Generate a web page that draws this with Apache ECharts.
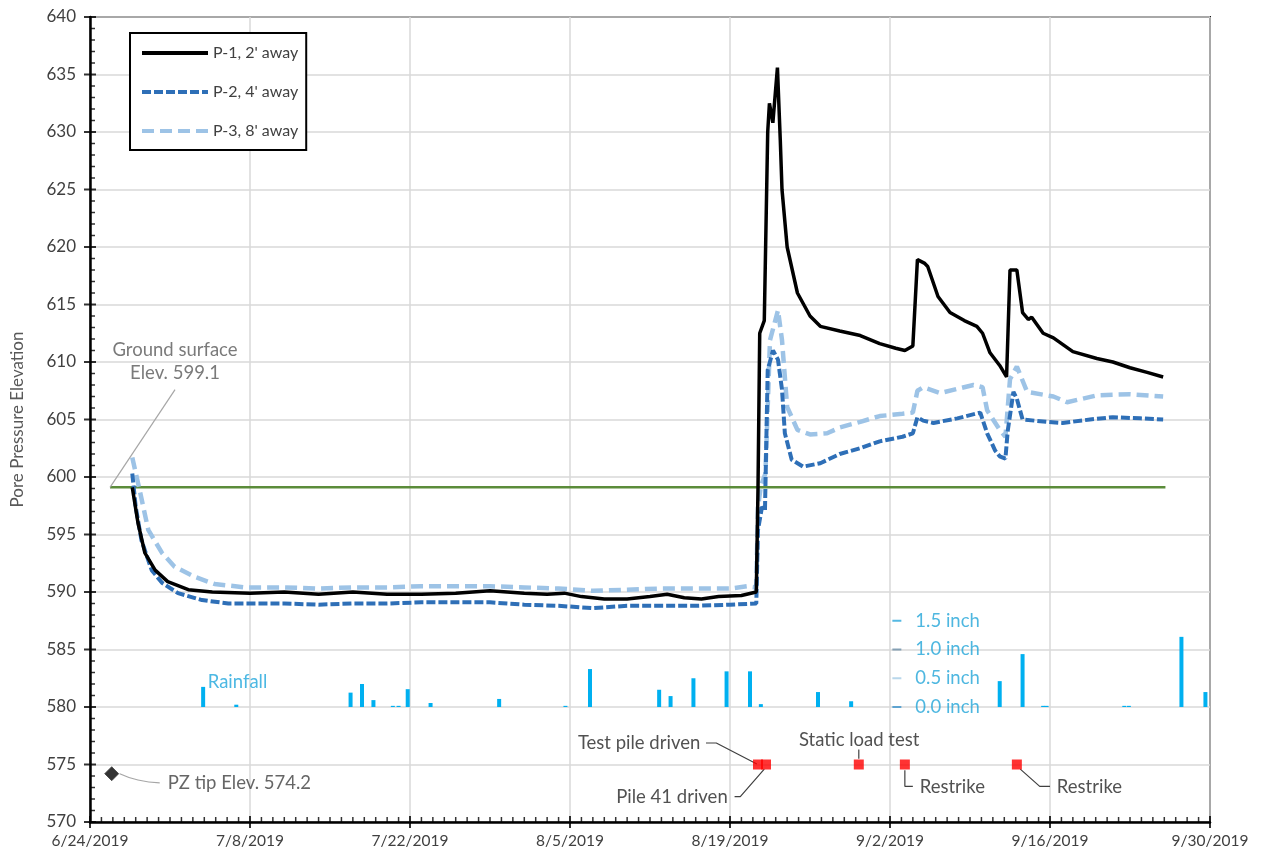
<!DOCTYPE html>
<html>
<head>
<meta charset="utf-8">
<script src="https://cdn.jsdelivr.net/npm/echarts@6/dist/echarts.min.js"></script>
<style>
  html, body { margin: 0; padding: 0; background: #fff; }
  #chart { width: 1261px; height: 860px; }
</style>
</head>
<body>
<div id="chart"></div>
<script>
// Time is measured in days after 6/24/2019.
const xTicksEvery = 14;
const xMaxDay = 98;
const yMin = 570, yMax = 640, yTicksEvery = 5;

// P-1, 2' away
const p1Days = [3.7, 4.2, 4.8, 5.7, 6.8, 8.6, 10.7, 14, 17, 20, 23, 26, 29, 32, 35, 38, 40, 41.5, 43, 45, 47, 49, 50.5, 52, 53.5, 55, 57, 58.3,
  58.45, 58.6, 59.0, 59.3, 59.45, 59.75, 60.15, 60.4, 60.55, 61.0, 61.9, 63.0, 63.9, 65.6, 67.4, 69.1, 70.5, 71.3, 72.0,
  72.4, 73.0, 73.3, 74.2, 75.25, 76.5, 77.6, 78.1, 78.75, 79.6, 80.2, 80.5, 81.1, 81.6, 82.1, 82.4, 83.4, 84.3, 86.0, 88.1, 89.5, 91.0, 92.5, 93.9];
const p1Elev = [599.1, 596.0, 593.4, 591.9, 590.9, 590.2, 590.0, 589.9, 590.0, 589.8, 590.0, 589.8, 589.8, 589.9, 590.1, 589.9, 589.8, 589.9, 589.6, 589.4, 589.4, 589.6, 589.8, 589.5, 589.4, 589.6, 589.7, 590.0,
  599.0, 612.5, 613.6, 630.0, 632.5, 630.8, 635.6, 629.3, 625.0, 620.0, 616.0, 614.0, 613.1, 612.7, 612.3, 611.6, 611.2, 611.0, 611.4,
  618.9, 618.6, 618.3, 615.7, 614.3, 613.6, 613.1, 612.5, 610.8, 609.7, 608.7, 618.0, 618.0, 614.3, 613.7, 613.9, 612.5, 612.1, 610.9, 610.3, 610.0, 609.5, 609.1, 608.7];

// P-2, 4' away
const p2Days = [3.7, 4.0, 4.5, 5.4, 6.3, 7.7, 9.8, 12.1, 14, 17, 20, 23, 26, 29, 32, 35, 38, 41, 44, 47, 50, 53, 56, 58.3,
  58.45, 58.8, 59.06, 59.3, 59.76, 60.2, 60.55, 60.8, 61.4, 62.4, 63.9, 65.6, 67.4, 69.1, 71.1, 72.0,
  72.4, 72.9, 73.8, 75.9, 77.9, 78.5, 79.2, 79.6, 80.1, 80.3, 80.8, 81.1, 81.6, 83.7, 85.1, 87.5, 89.5, 91.9, 93.9];
const p2Elev = [600.3, 597.4, 594.5, 591.9, 590.8, 589.9, 589.3, 589.0, 589.0, 589.0, 588.9, 589.0, 589.0, 589.1, 589.1, 589.1, 588.9, 588.8, 588.6, 588.8, 588.8, 588.8, 588.9, 589.0,
  595.4, 597.4, 597.1, 609.3, 611.0, 610.2, 607.6, 603.8, 601.5, 600.9, 601.2, 602.0, 602.5, 603.1, 603.5, 603.8,
  605.2, 604.9, 604.7, 605.1, 605.6, 603.8, 602.3, 601.8, 601.6, 604.0, 607.4, 606.8, 605.0, 604.8, 604.7, 605.0, 605.2, 605.1, 605.0];

// P-3, 8' away
const p3Days = [3.7, 4.4, 5.1, 6.3, 7.4, 9.2, 10.9, 13.6, 17, 20, 23, 26, 29, 32, 35, 38, 41, 44, 47, 50, 53, 56, 57.5, 58.3,
  58.45, 58.7, 59.1, 59.5, 60.2, 60.55, 61.0, 61.9, 63.0, 64.5, 65.6, 67.4, 69.1, 71.1, 72.0,
  72.4, 72.9, 74.4, 77.3, 78.1, 78.5, 79.6, 80.1, 80.5, 81.1, 82.0, 84.3, 85.5, 88.1, 91.0, 93.9];
const p3Elev = [601.7, 598.6, 595.4, 593.4, 592.2, 591.3, 590.7, 590.4, 590.4, 590.3, 590.4, 590.4, 590.5, 590.5, 590.5, 590.4, 590.3, 590.1, 590.2, 590.3, 590.3, 590.3, 590.5, 590.4,
  597.4, 599.2, 600.3, 611.9, 614.5, 611.9, 606.1, 604.1, 603.7, 603.8, 604.3, 604.8, 605.3, 605.5, 605.6,
  607.5, 607.8, 607.3, 608.0, 607.8, 605.8, 604.1, 603.5, 608.5, 609.6, 607.4, 607.0, 606.5, 607.1, 607.2, 607.0];

// Ground surface elevation and the days it spans
const groundElev = 599.1;
const groundSpan = [1.75, 94.1];

// PZ tip
const pzTipDay = 1.9;
const pzTipElev = 574.2;

// Daily rainfall (inch)
const rainDays = [9.9, 12.8, 22.8, 23.8, 24.8, 26.5, 27.0, 27.8, 29.8, 35.8, 41.6, 43.75, 49.8, 50.8, 52.8, 55.7, 57.75, 58.7, 63.7, 66.6, 79.6, 81.6, 83.4, 83.7, 90.5, 90.9, 95.5, 97.6];
const rainInch = [0.35, 0.04, 0.25, 0.40, 0.12, 0.02, 0.02, 0.31, 0.07, 0.14, 0.02, 0.66, 0.30, 0.19, 0.50, 0.62, 0.62, 0.05, 0.26, 0.10, 0.45, 0.92, 0.02, 0.02, 0.02, 0.02, 1.22, 0.26];
const rainScaleTicks = [0.0, 0.5, 1.0, 1.5];

// Pile events
const eventDays = [58.45, 59.15, 67.27, 71.3, 81.1];
const eventElev = 575;

const fmtDay = d => {
  const dt = new Date(2019, 5, 24 + Math.round(d));
  return (dt.getMonth() + 1) + '/' + dt.getDate() + '/' + dt.getFullYear();
};
const zip = (xs, ys) => xs.map((x, i) => [x, ys[i]]);

// Annotation text and leader lines, in data units (day, elevation)
const notes = [
  { text: 'Ground surface', at: [7.44, 611.0], align: 'center', color: '#595959' },
  { text: 'Elev. 599.1', at: [7.44, 609.0], align: 'center', color: '#595959' },
  { text: 'PZ tip Elev. 574.2', at: [6.8, 573.4], align: 'left', color: '#404040' },
  { text: 'Rainfall', at: [10.3, 582.2], align: 'left', color: '#1fa6dc' },
  { text: 'Test pile driven', at: [53.4, 576.85], align: 'right', color: '#262626' },
  { text: 'Pile 41 driven', at: [55.8, 572.15], align: 'right', color: '#262626' },
  { text: 'Static load test', at: [67.3, 577.15], align: 'center', color: '#262626' },
  { text: 'Restrike', at: [72.6, 573.0], align: 'left', color: '#262626' },
  { text: 'Restrike', at: [84.6, 573.0], align: 'left', color: '#262626' }
];
const leaders = [
  { pts: [[1.75, 599.1], [7.44, 607.6]], color: '#a6a6a6', smooth: false },
  { pts: [[2.6, 574.2], [4.2, 573.65], [6.1, 573.4]], color: '#a6a6a6', smooth: true },
  { pts: [[53.9, 576.87], [54.8, 576.87], [58.35, 575.05]], color: '#404040', smooth: false },
  { pts: [[56.4, 572.2], [56.9, 572.2], [59.0, 574.6]], color: '#404040', smooth: false },
  { pts: [[67.27, 576.3], [67.27, 575.5]], color: '#404040', smooth: false },
  { pts: [[71.3, 574.5], [71.3, 573.1], [72.0, 573.1]], color: '#404040', smooth: false },
  { pts: [[81.4, 574.6], [83.1, 573.1], [84.0, 573.1]], color: '#404040', smooth: false }
];

// Tick marks drawn as thin rectangles sitting on the axis lines:
// major ticks cross the line, daily / unit minor ticks point into the plot.
const xMajorTicks = [], xMinorTicks = [], yMajorTicks = [], yMinorTicks = [];
for (let d = 0; d <= xMaxDay; d++) (d % xTicksEvery === 0 ? xMajorTicks : xMinorTicks).push([d, yMin]);
for (let v = yMin; v <= yMax; v++) (v % yTicksEvery === 0 ? yMajorTicks : yMinorTicks).push([0, v]);

const tickSeries = (name, data, size, offset) => ({
  name, type: 'scatter', silent: true, clip: false, data,
  symbol: 'rect', symbolSize: size, symbolOffset: offset,
  itemStyle: { color: '#000' }, z: 12
});

const FONT = 'Lato';
const NOTE_SIZE = 18.5;
const chart = echarts.init(document.getElementById('chart'), null, { renderer: 'canvas' });

const series = [
  {
    name: 'Rainfall', type: 'bar', xAxisIndex: 0, yAxisIndex: 1,
    data: zip(rainDays, rainInch), barWidth: 4, silent: true,
    itemStyle: { color: '#00b0f0' }, z: 2
  },
  {
    name: 'Rainfall scale', type: 'scatter', xAxisIndex: 0, yAxisIndex: 1, silent: true,
    data: rainScaleTicks.map((v, i) => ({
      value: [70.6, v],
      itemStyle: { color: ['#3d93cc', '#a8cde6', '#6d8fa8', '#2aa8dc'][i] }
    })),
    symbol: 'rect', symbolSize: [9, 2],
    label: {
      show: true, position: 'right', distance: 14,
      formatter: p => p.value[1].toFixed(1) + ' inch',
      color: '#22a5d8', fontSize: NOTE_SIZE, fontFamily: FONT
    }, z: 3
  },
  {
    name: 'Ground surface', type: 'line', silent: true,
    data: [[groundSpan[0], groundElev], [groundSpan[1], groundElev]],
    symbol: 'none', lineStyle: { color: '#5b8c3a', width: 2.5 }, z: 3
  },
  {
    name: "P-3, 8' away", type: 'line', data: zip(p3Days, p3Elev),
    symbol: 'none', showSymbol: false,
    lineStyle: { color: '#9dc3e6', width: 4.5, type: [12, 6] },
    itemStyle: { color: '#9dc3e6' }, z: 4
  },
  {
    name: "P-2, 4' away", type: 'line', data: zip(p2Days, p2Elev),
    symbol: 'none', showSymbol: false,
    lineStyle: { color: '#2e6fb7', width: 4, type: [9, 3] },
    itemStyle: { color: '#2e6fb7' }, z: 5
  },
  {
    name: "P-1, 2' away", type: 'line', data: zip(p1Days, p1Elev),
    symbol: 'none', showSymbol: false,
    lineStyle: { color: '#000000', width: 3.5 },
    itemStyle: { color: '#000000' }, z: 6
  },
  ...leaders.map((l, i) => ({
    name: 'leader' + i, type: 'line', silent: true, data: l.pts, smooth: l.smooth,
    symbol: 'none', lineStyle: { color: l.color, width: 1.2 }, z: 7
  })),
  {
    name: 'PZ tip', type: 'scatter', silent: true,
    data: [[pzTipDay, pzTipElev]], symbol: 'diamond', symbolSize: 14,
    itemStyle: { color: '#000', borderColor: '#404040', borderWidth: 1 }, z: 8
  },
  {
    name: 'Events', type: 'scatter', silent: true,
    data: eventDays.map(d => [d, eventElev]), symbol: 'rect', symbolSize: 10,
    itemStyle: { color: '#ff0000' }, z: 9
  },
  {
    name: 'Notes', type: 'scatter', silent: true,
    data: notes.map(n => ({
      value: n.at,
      label: { formatter: n.text, align: n.align, color: n.color }
    })),
    symbol: 'circle', symbolSize: 1, itemStyle: { color: 'rgba(0,0,0,0)' },
    label: { show: true, position: 'inside', verticalAlign: 'middle', fontSize: NOTE_SIZE, fontFamily: FONT }, z: 10
  },
  tickSeries('x major ticks', xMajorTicks, [2, 12], [0, 0]),
  tickSeries('x minor ticks', xMinorTicks, [1.5, 5], [0, -2.5]),
  tickSeries('y major ticks', yMajorTicks, [12, 2], [0, 0]),
  tickSeries('y minor ticks', yMinorTicks, [5, 1.5], [2.5, 0])
];

chart.setOption({
  animation: false,
  backgroundColor: '#ffffff',
  textStyle: { fontFamily: FONT },
  grid: { left: 90, right: 51, top: 17, bottom: 38, show: true, borderColor: '#1a1a1a', borderWidth: 2, backgroundColor: 'transparent' },
  legend: {
    data: ["P-1, 2' away", "P-2, 4' away", "P-3, 8' away"],
    orient: 'vertical', left: 130, top: 33,
    itemWidth: 66, itemHeight: 14, itemGap: 23,
    padding: [12, 8, 11, 10],
    backgroundColor: '#fff', borderColor: '#000', borderWidth: 2,
    itemStyle: { opacity: 0 },
    lineStyle: { width: 4 },
    textStyle: { fontSize: 16, color: '#404040', fontFamily: FONT },
    selectedMode: false
  },
  xAxis: {
    type: 'value', min: 0, max: xMaxDay, interval: xTicksEvery,
    axisLine: { show: true, onZero: false, lineStyle: { color: '#000', width: 2.5 } },
    axisTick: { show: false },
    axisLabel: { show: true, formatter: fmtDay, color: '#404040', fontSize: 15.5, margin: 11, fontFamily: FONT, showMinLabel: true, showMaxLabel: true },
    splitLine: { show: true, lineStyle: { color: '#d9d9d9', width: 1.5 } }
  },
  yAxis: [
    {
      type: 'value', min: yMin, max: yMax, interval: yTicksEvery,
      name: 'Pore Pressure Elevation', nameLocation: 'middle', nameGap: 64,
      nameTextStyle: { color: '#595959', fontSize: 17, fontFamily: FONT },
      axisLine: { show: true, onZero: false, lineStyle: { color: '#000', width: 2.5 } },
      axisTick: { show: false },
      axisLabel: { show: true, color: '#404040', fontSize: 17, margin: 14, fontFamily: FONT },
      splitLine: { show: true, lineStyle: { color: '#d9d9d9', width: 1.5 } }
    },
    // Rainfall scale: 0 inch sits at elevation 580, 1 inch spans 5 ft
    { type: 'value', min: -2, max: 12, show: false, position: 'right', axisLine: { onZero: false }, splitLine: { show: false } }
  ],
  series: series
});
</script>
</body>
</html>
